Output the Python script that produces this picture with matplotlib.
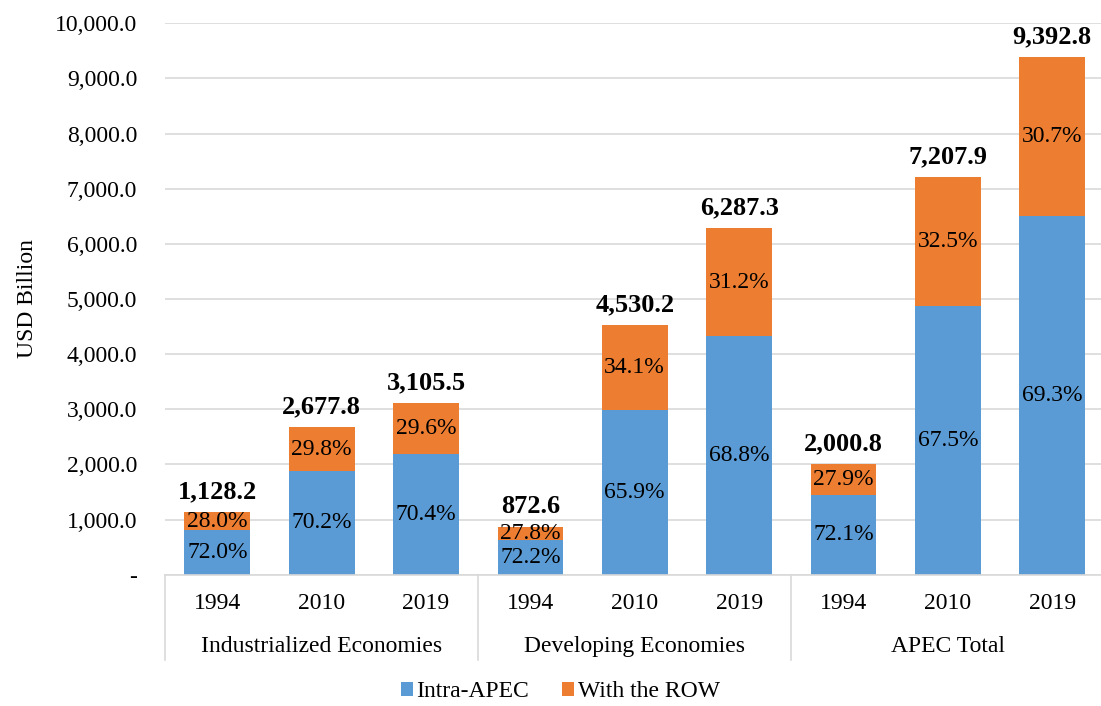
import matplotlib.pyplot as plt
import matplotlib.transforms as mtransforms
import numpy as np

plt.rcParams["font.family"] = ['Liberation Serif', 'DejaVu Serif']
plt.rcParams["font.size"] = 17

# data
groups = ['Industrialized Economies', 'Developing Economies', 'APEC Total']
years = ['1994', '2010', '2019']
totals = [1128.2, 2677.8, 3105.5, 872.6, 4530.2, 6287.3, 2000.8, 7207.9, 9392.8]
intra_apec = [812.3, 1879.8, 2186.3, 630.0, 2985.4, 4325.7, 1442.6, 4865.3, 6509.2]
with_row = [315.9, 798.0, 919.2, 242.6, 1544.8, 1961.6, 558.2, 2342.6, 2883.6]
intra_share = ['72.0%', '70.2%', '70.4%', '72.2%', '65.9%', '68.8%', '72.1%', '67.5%', '69.3%']
row_share = ['28.0%', '29.8%', '29.6%', '27.8%', '34.1%', '31.2%', '27.9%', '32.5%', '30.7%']

c_blue = '#5B9BD5'
c_orange = '#ED7D31'

fig = plt.figure(figsize=(11.01, 7.06), dpi=100)
ax = fig.add_axes([0.150, 0.186, 0.853, 0.781])

x = np.arange(len(totals))
bw = 0.63
b1 = ax.bar(x, intra_apec, bw, color=c_blue, label='Intra-APEC', zorder=2)
b2 = ax.bar(x, with_row, bw, bottom=intra_apec, color=c_orange, label='With the ROW', zorder=2)

for i in range(len(totals)):
    ax.text(x[i], intra_apec[i] / 2, intra_share[i], ha='center', va='center', zorder=3)
    ax.text(x[i], intra_apec[i] + with_row[i] / 2, row_share[i], ha='center', va='center', zorder=3)
    ax.text(x[i], totals[i] + 160, f'{totals[i]:,.1f}', ha='center', va='bottom',
            fontsize=19, fontweight='bold', zorder=3)

ax.set_xlim(-0.5, len(totals) - 0.5)
ax.set_ylim(0, 10000)
yt = np.arange(0, 10001, 1000)
ax.set_yticks(yt)
ax.set_yticklabels(['-'] + [f'{v:,.1f}' for v in yt[1:]])
ax.yaxis.grid(True, color='#D9D9D9', linewidth=1.2, zorder=0)
ax.set_axisbelow(True)
ax.tick_params(axis='y', length=0, pad=20)
ax.tick_params(axis='x', length=0, pad=13)
ax.set_xticks(x)
ax.set_xticklabels(years * len(groups))
for s in ['top', 'right', 'left']:
    ax.spines[s].set_visible(False)
ax.spines['bottom'].set_color('#D9D9D9')
ax.spines['bottom'].set_linewidth(1.2)
ax.set_ylabel('USD Billion', labelpad=12)

trans = mtransforms.blended_transform_factory(ax.transData, ax.transAxes)
for g in range(len(groups) + 1):
    xs = g * 3 - 0.5
    ax.plot([xs, xs], [0, -0.155], color='#D9D9D9', linewidth=1.2, transform=trans, clip_on=False)
for g, name in enumerate(groups):
    ax.text(g * 3 + 1, -0.13, name, ha='center', va='center', transform=trans)

fig.legend(handles=[b1, b2], loc='lower center', bbox_to_anchor=(0.509, -0.025), ncol=2,
           frameon=False, handlelength=0.5, handleheight=0.5, handletextpad=0.15, columnspacing=1.4)

plt.savefig('out.png', dpi=100)
